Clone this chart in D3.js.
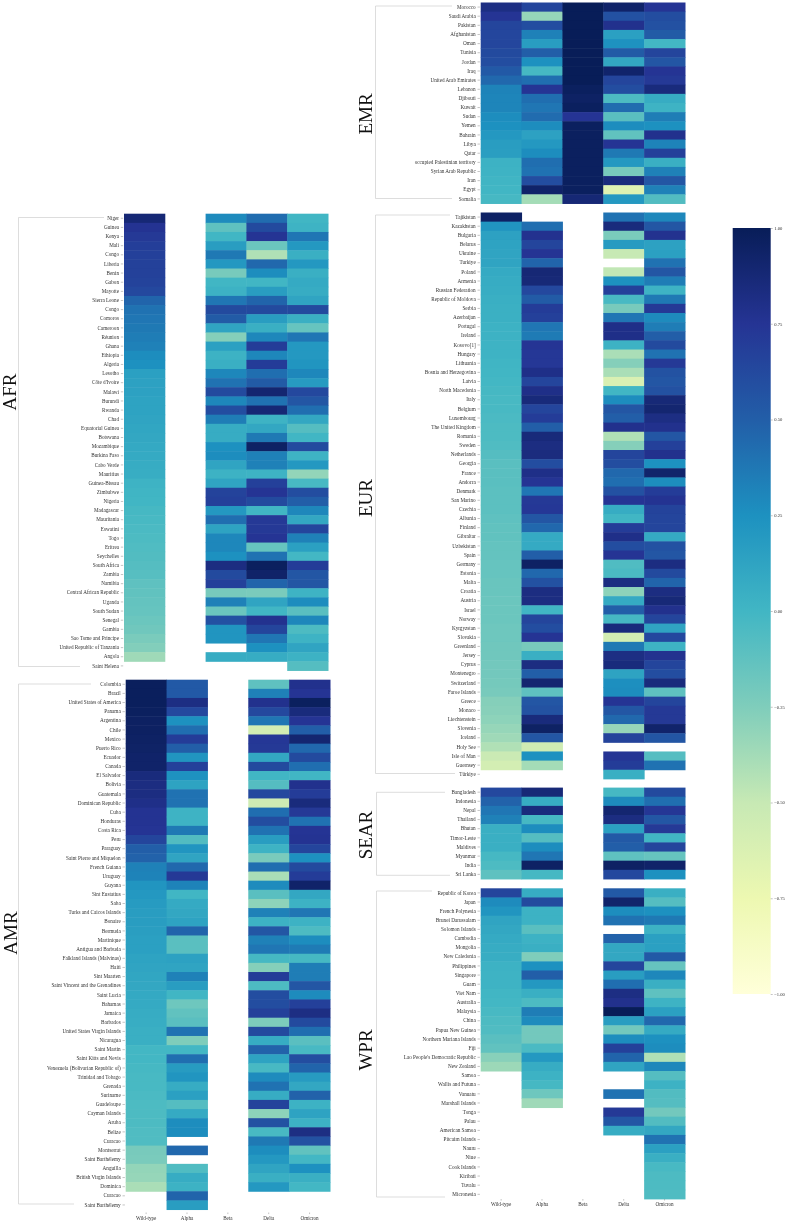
<!DOCTYPE html>
<html><head><meta charset="utf-8">
<script src="https://cdn.jsdelivr.net/npm/d3@7/dist/d3.min.js"></script>
<style>
html,body{margin:0;padding:0;background:#fff;}
svg{display:block;filter:blur(.45px);}
text{font-family:"Liberation Serif",serif;}
</style></head><body>
<svg id="chart" width="790" height="1225"></svg>
<script>
const variants = ["Wild-type","Alpha","Beta","Delta","Omicron"];
const _ = null;

const afrCountries = ["Niger","Guinea","Kenya","Mali","Congo","Liberia","Benin","Gabon","Mayotte","Sierra Leone","Congo","Comoros","Cameroon","Réunion","Ghana","Ethiopia","Algeria","Lesotho","Côte d'Ivoire","Malawi","Burundi","Rwanda","Chad","Equatorial Guinea","Botswana","Mozambique","Burkina Faso","Cabo Verde","Mauritius","Guinea-Bissau","Zimbabwe","Nigeria","Madagascar","Mauritania","Eswatini","Togo","Eritrea","Seychelles","South Africa","Zambia","Namibia","Central African Republic","Uganda","South Sudan","Senegal","Gambia","Sao Tome and Principe","United Republic of Tanzania","Angola","Saint Helena"];
const afrWild = [.88,.76,.72,.69,.68,.67,.67,.66,.63,.47,.40,.38,.37,.35,.33,.27,.25,.15,.14,.14,.13,.13,.12,.11,.10,.09,.08,.07,.06,.02,.01,0,-.02,-.03,-.04,-.05,-.06,-.07,-.08,-.09,-.12,-.13,-.14,-.15,-.17,-.19,-.23,-.26,-.36,_];
const afrAlpha = [];
const afrBeta = [.28,-.12,0,.17,.37,.2,-.22,0,.03,.38,.62,.52,.12,-.27,.15,.03,.05,.3,.4,.62,.3,.6,.35,.07,.07,.25,.27,.12,.03,.12,.66,.68,.2,.42,.13,.3,.3,.25,.83,.62,.68,-.22,.33,-.17,.58,.22,.22,_,.07,_];
const afrDelta = [.43,.62,.75,-.17,-.42,.45,.27,0,.17,.47,.62,.17,.05,.3,.7,.3,.7,.42,.52,.9,.4,.88,.02,.1,.37,.95,.33,.33,.02,.68,.75,.62,0,.72,.72,.75,-.15,.4,.97,.93,.47,-.23,.12,0,.77,.65,.38,.25,.07,_];
const afrOmicron = [0,.02,.38,.2,.05,.2,.05,.08,.07,.12,.62,.05,-.15,.38,.2,.2,.22,.3,.18,.63,.55,.42,.1,-.08,0,.62,.02,.2,-.32,-.03,.6,.5,.3,.1,.65,.33,.15,-.01,.7,.55,.55,.02,.27,-.1,.3,-.05,.02,.12,.03,-.08];

const amrCountries = ["Colombia","Brazil","United States of America","Panama","Argentina","Chile","Mexico","Puerto Rico","Ecuador","Canada","El Salvador","Bolivia","Guatemala","Dominican Republic","Cuba","Honduras","Costa Rica","Peru","Paraguay","Saint Pierre and Miquelon","French Guiana","Uruguay","Guyana","Sint Eustatius","Saba","Turks and Caicos Islands","Bonaire","Bermuda","Martinique","Antigua and Barbuda","Falkland Islands (Malvinas)","Haiti","Sint Maarten","Saint Vincent and the Grenadines","Saint Lucia","Bahamas","Jamaica","Barbados","United States Virgin Islands","Nicaragua","Saint Martin","Saint Kitts and Nevis","Venezuela (Bolivarian Republic of)","Trinidad and Tobago","Grenada","Suriname","Guadeloupe","Cayman Islands","Aruba","Belize","Curacao","Montserrat","Saint Barthélemy","Anguilla","British Virgin Islands","Dominica","Curacao","Saint Barthélemy"];
const amrWild = [.98,.98,.98,.97,.96,.96,.95,.94,.93,.93,.85,.83,.83,.8,.76,.76,.75,.65,.5,.48,.33,.32,.22,.2,.18,.17,.17,.16,.15,.15,.13,.12,.11,.1,.09,.08,.07,.06,.05,.05,-.01,-.01,-.02,-.03,-.03,-.04,-.05,-.05,-.05,-.06,-.06,-.22,-.23,-.32,-.33,-.4,_,_];
const amrAlpha = [.53,.53,.82,.63,.25,.42,.7,.5,.22,.68,.24,.13,.4,.4,.02,.02,.37,-.07,.22,.12,.45,.72,.32,0,.08,.1,.13,.47,-.1,-.1,.14,.12,.33,.17,0,-.18,-.13,-.1,.4,-.25,-.01,.42,.18,.22,.07,.15,-.08,.08,.27,.27,_,.45,_,-.06,.07,.03,.47,.17];
const amrBeta = [];
const amrDelta = [-.12,.33,.78,.63,.38,-.58,.73,.72,.1,.62,0,-.08,.63,-.55,.42,.6,.4,.17,.02,-.23,.42,-.4,.28,-.1,-.3,.33,.03,.55,.33,.38,-.02,-.27,.7,-.05,.6,.6,.68,-.24,.62,.07,.48,.13,-.03,.28,.4,.07,.66,-.3,.58,-.03,.37,.27,.2,.12,.05,.2,_,_];
const amrOmicron = [.78,.75,.97,.85,.75,.5,.9,.45,.62,.42,0,.78,.7,.85,.72,.4,.75,.76,.65,.25,.62,.7,.93,.1,.03,.38,.03,-.05,.27,.36,-.02,.35,.35,.55,.28,.68,.82,.62,.42,-.1,-.03,.6,.47,.18,.1,.48,.03,.13,.03,.82,.58,-.13,-.01,.25,.05,-.01,_,_];

const emrCountries = ["Morocco","Saudi Arabia","Pakistan","Afghanistan","Oman","Tunisia","Jordan","Iraq","United Arab Emirates","Lebanon","Djibouti","Kuwait","Sudan","Yemen","Bahrain","Libya","Qatar","occupied Palestinian territory","Syrian Arab Republic","Iran","Egypt","Somalia"];
const emrWild = [.82,.75,.65,.64,.64,.62,.6,.53,.45,.32,.31,.31,.27,.25,.2,.17,.16,.03,.02,.01,0,-.02];
const emrAlpha = [.65,-.33,.6,.33,.17,.5,.25,-.02,.42,.75,.42,.38,.43,.27,.14,.2,.27,.42,.4,.6,.93,-.38];
const emrBeta = [1,1,1,1,1,1,1,1,1,.97,.95,.97,.75,.97,.97,.97,.97,.97,.97,.97,.97,.88];
const emrDelta = [.93,.58,.78,.15,.24,.52,.1,.92,.65,.6,-.05,.43,-.1,.27,-.13,.75,.37,.2,-.22,.85,-.65,.2];
const emrOmicron = [.75,.6,.58,.52,-.01,.65,.55,.75,.72,.85,.07,.02,.35,.25,.78,.32,.68,.05,.33,.55,.33,-.07];

const eurCountries = ["Tajikistan","Kazakhstan","Bulgaria","Belarus","Ukraine","Turkiye","Poland","Armenia","Russian Federation","Republic of Moldova","Serbia","Azerbaijan","Portugal","Ireland","Kosovo[1]","Hungary","Lithuania","Bosnia and Herzegovina","Latvia","North Macedonia","Italy","Belgium","Luxembourg","The United Kingdom","Romania","Sweden","Netherlands","Georgia","France","Andorra","Denmark","San Marino","Czechia","Albania","Finland","Gibraltar","Uzbekistan","Spain","Germany","Estonia","Malta","Croatia","Austria","Israel","Norway","Kyrgyzstan","Slovakia","Greenland","Jersey","Cyprus","Montenegro","Switzerland","Faroe Islands","Greece","Monaco","Liechtenstein","Slovenia","Iceland","Holy See","Isle of Man","Guernsey","Türkiye"];
const eurWild = [.95,.22,.14,.13,.12,.12,.08,.07,.06,.05,.04,.04,.03,.03,.02,.02,.01,0,-.01,-.02,-.03,-.03,-.04,-.05,-.05,-.06,-.08,-.1,-.1,-.1,-.11,-.11,-.11,-.12,-.13,-.13,-.14,-.14,-.15,-.15,-.16,-.16,-.17,-.17,-.17,-.18,-.18,-.19,-.19,-.2,-.2,-.21,-.22,-.27,-.28,-.3,-.33,-.36,-.42,-.52,-.58,_];
const eurAlpha = [_,.42,.77,.65,.75,.47,.88,.87,.63,.52,.7,.68,.38,.36,.75,.73,.73,.8,.65,.8,.86,.65,.7,.5,.86,.83,.84,.6,.8,.75,.38,.72,.73,.55,.45,.08,.08,.5,.95,.45,.58,.83,.83,0,.65,.6,.75,-.22,.05,.83,.5,.9,-.12,.55,.57,.85,.95,.55,-.55,.25,-.38,_];
const eurBeta = [];
const eurDelta = [.4,.85,-.23,.18,-.5,_,-.48,.25,.68,-.03,-.22,.38,.8,.8,.03,-.4,-.27,-.4,-.62,0,.27,.55,.5,.78,-.42,-.27,.65,.6,.45,.42,.58,.75,.07,0,.7,.8,.6,.75,-.06,-.04,.83,-.3,.08,.5,-.02,.85,-.58,.37,.82,.85,.13,.26,.27,.75,.55,.45,-.33,.66,_,.75,.7,.05];
const eurOmicron = [.3,.55,.77,.14,.15,.4,.55,.35,.02,.37,.72,.28,.35,.5,.62,.4,.72,.57,.55,.58,.87,.9,.82,.78,.55,.68,.78,.25,.92,.27,.7,.76,.66,.65,.65,.08,.58,.55,.83,.62,.47,.83,.87,.78,.65,.12,.63,.02,.77,.65,.6,.85,-.12,.65,.72,.72,.92,.55,_,-.08,.4,_];

const searCountries = ["Bangladesh","Indonesia","Nepal","Thailand","Bhutan","Timor-Leste","Maldives","Myanmar","India","Sri Lanka"];
const searWild = [.63,.48,.38,.33,.05,.05,.05,-.02,-.05,-.12];
const searAlpha = [.87,.07,.85,-.02,.27,-.08,.27,.38,.95,-.02];
const searBeta = [];
const searDelta = [-.02,.28,.9,.83,.15,.53,.5,-.12,.95,.63];
const searOmicron = [.62,.42,.74,.55,.72,0,.65,-.15,.93,.25];

const wprCountries = ["Republic of Korea","Japan","French Polynesia","Brunei Darussalam","Solomon Islands","Cambodia","Mongolia","New Caledonia","Philippines","Singapore","Guam","Viet Nam","Australia","Malaysia","China","Papua New Guinea","Northern Mariana Islands","Fiji","Lao People's Democratic Republic","New Zealand","Samoa","Wallis and Futuna","Vanuatu","Marshall Islands","Tonga","Palau","American Samoa","Pitcairn Islands","Nauru","Niue","Cook Islands","Kiribati","Tuvalu","Micronesia"];
const wprWild = [.65,.28,.22,.12,.1,.08,.07,.06,.03,.02,.02,0,-.01,-.03,-.05,-.06,-.1,-.13,-.28,-.35,_,_,_,_,_,_,_,_,_,_,_,_,_,_];
const wprAlpha = [.07,.62,.03,.03,-.1,.03,.05,-.25,.25,.5,.2,.05,-.05,.35,.28,-.2,-.2,-.04,.2,.07,.03,-.02,-.18,-.36,_,_,_,_,_,_,_,_,_,_];
const wprBeta = [];
const wprDelta = [.53,.92,.27,.4,_,.48,.1,.1,.65,.17,.42,.82,.78,1,.17,-.2,.27,.68,.47,.12,_,_,.4,_,.72,.55,.07,_,_,_,_,_,_,_];
const wprOmicron = [.05,-.08,.25,.37,.03,.15,.15,.53,-.15,.3,.05,-.12,.02,.15,.45,.08,.25,.27,-.42,.3,-.08,.03,-.07,-.08,-.2,-.07,.1,.4,.15,.05,-.03,-.05,-.05,-.06];

const colorStops = [-1,-.75,-.5,-.25,0,.25,.5,.75,1];
const colorRange = ["#ffffd9","#edf8b1","#c7e9b4","#7fcdbb","#41b6c4","#1d91c0","#225ea8","#253494","#081d58"];
const barTicks = [1,.75,.5,.25,0,-.25,-.5,-.75,-1];

const color = d3.scaleLinear().domain(colorStops).range(colorRange).interpolate(d3.interpolateRgb);
const svg = d3.select("#chart");
const ROW = 9.135;

const panels = [
 {name:"AFR",countries:afrCountries,series:[afrWild,afrAlpha,afrBeta,afrDelta,afrOmicron],x0:124,x1:328,top:213.7,labelX:16,labelY:392,
  bLeft:18.5,bTop:217.5,bTopEnd:104,bBot:666.5,bBotEnd:80},
 {name:"AMR",countries:amrCountries,series:[amrWild,amrAlpha,amrBeta,amrDelta,amrOmicron],x0:125.7,x1:330,top:679.7,labelX:17,labelY:933,
  bLeft:18.5,bTop:684,bTopEnd:91,bBot:1204,bBotEnd:74,xAxisTick:1212.5},
 {name:"EMR",countries:emrCountries,series:[emrWild,emrAlpha,emrBeta,emrDelta,emrOmicron],x0:480.7,x1:685,top:2.5,labelX:371.5,labelY:114,
  bLeft:375.5,bTop:6,bTopEnd:452,bBot:198.5,bBotEnd:452},
 {name:"EUR",countries:eurCountries,series:[eurWild,eurAlpha,eurBeta,eurDelta,eurOmicron],x0:480.7,x1:685,top:212.5,labelX:371.5,labelY:498,
  bLeft:375.5,bTop:215,bTopEnd:450,bBot:773.5,bBotEnd:455},
 {name:"SEAR",countries:searCountries,series:[searWild,searAlpha,searBeta,searDelta,searOmicron],x0:480.7,x1:685,top:787.6,labelX:371.5,labelY:835,
  bLeft:376.5,bTop:792.3,bTopEnd:445,bBot:875.3,bBotEnd:450},
 {name:"WPR",countries:wprCountries,series:[wprWild,wprAlpha,wprBeta,wprDelta,wprOmicron],x0:480.7,x1:685,top:888.3,labelX:371.5,labelY:1050,
  bLeft:376.5,bTop:891,bTopEnd:432,bBot:1197,bBotEnd:445,xAxisTick:1199}
];

panels.forEach(p=>{
  const g = svg.append("g");
  const idx = p.countries.map((c,i)=>i);
  const x = d3.scaleBand().domain(variants).range([p.x0,p.x1]);
  const y = d3.scaleBand().domain(idx).range([p.top,p.top+idx.length*ROW]);
  variants.forEach((v,k)=>{
    const vals = p.series[k];
    g.append("g").selectAll("rect")
      .data(idx.filter(i=>vals[i]!==undefined && vals[i]!==null))
      .join("rect")
      .attr("x",x(v)).attr("width",x.bandwidth()+.5)
      .attr("y",i=>y(i)).attr("height",y.bandwidth()+.5)
      .attr("fill",i=>color(vals[i]));
  });
  const ay = g.append("g").attr("transform",`translate(${p.x0-.8},0)`)
    .call(d3.axisLeft(y).tickSize(2.4).tickPadding(1.8).tickFormat(i=>p.countries[i]));
  ay.select(".domain").remove();
  ay.selectAll("line").attr("stroke","#888").attr("stroke-width",.5);
  ay.selectAll("text").attr("font-size",5.2).attr("fill","#333").attr("font-family","Liberation Serif");
  if(p.xAxisTick){
    const ax = g.append("g").attr("transform",`translate(0,${p.xAxisTick})`)
      .call(d3.axisBottom(x).tickSize(1.6).tickPadding(2));
    ax.select(".domain").remove();
    ax.selectAll("line").attr("stroke","#888").attr("stroke-width",.5);
    ax.selectAll("text").attr("font-size",5.1).attr("fill","#333").attr("font-family","Liberation Serif");
  }
  g.append("path")
    .attr("d",d3.line()([[p.bTopEnd,p.bTop],[p.bLeft,p.bTop],[p.bLeft,p.bBot],[p.bBotEnd,p.bBot]]))
    .attr("fill","none").attr("stroke","#cfcfcf").attr("stroke-width",.7);
  g.append("text").text(p.name)
    .attr("transform",`translate(${p.labelX},${p.labelY}) rotate(-90)`)
    .attr("text-anchor","middle").attr("font-size",19).attr("fill","#111");
});

// colour bar
const barX0=732.7, barW=38, barTop=228, barBot=994;
const barScale = d3.scaleLinear().domain([-1,1]).range([barBot,barTop]);
const defs = svg.append("defs");
const grad = defs.append("linearGradient").attr("id","ylgnbu").attr("x1",0).attr("y1",1).attr("x2",0).attr("y2",0);
colorStops.forEach((s,i)=>grad.append("stop").attr("offset",(s+1)/2).attr("stop-color",colorRange[i]));
svg.append("rect").attr("x",barX0).attr("y",barTop).attr("width",barW).attr("height",barBot-barTop).attr("fill","url(#ylgnbu)");
const barAxis = svg.append("g").attr("transform",`translate(${barX0+barW},0)`)
  .call(d3.axisRight(barScale).tickValues(barTicks).tickSize(2).tickPadding(1.5).tickFormat(d=>d3.format(".2f")(d).replace("-","\u2212")));
barAxis.select(".domain").remove();
barAxis.selectAll("line").attr("stroke","#888").attr("stroke-width",.5);
barAxis.selectAll("text").attr("font-size",4.6).attr("fill","#333").attr("font-family","Liberation Serif");
</script>
</body></html>
